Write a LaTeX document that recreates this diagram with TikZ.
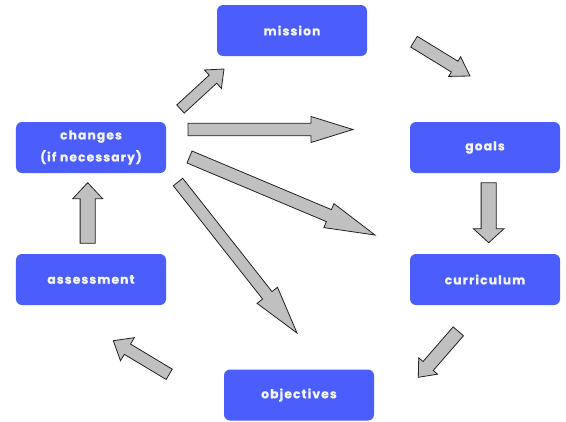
\documentclass[tikz,border=0pt]{standalone}
\usepackage{fontspec}
\usetikzlibrary{calc}
\newfontfamily\boxfont[LetterSpace=9,BoldFeatures={FakeBold=0.6}]{Poppins}
\definecolor{boxblue}{HTML}{4B5EFC}
\definecolor{arrgray}{HTML}{C0C0C0}
\definecolor{arrline}{HTML}{222222}
\definecolor{txtwhite}{HTML}{F4F4F4}
\tikzset{
  stagebox/.style={fill=boxblue, rounded corners=6bp, minimum width=150bp, minimum height=51bp,
    inner sep=0pt, align=center, text=txtwhite, font=\boxfont\bfseries\fontsize{12.3bp}{22bp}\selectfont},
  barrow/.style={fill=arrgray, draw=arrline, line width=0.8bp, line join=miter},
}
% tail, tip, shaft half-width, head half-width, head length
\newcommand\blockarrow[5]{%
  \coordinate (hb) at ($(#2)!#5!(#1)$);
  \draw[barrow] ($(#1)!#3!90:(#2)$) -- ($(hb)!#3!-90:(#1)$) -- ($(hb)!#4!-90:(#1)$) -- (#2)
    -- ($(hb)!#4!90:(#1)$) -- ($(hb)!#3!90:(#1)$) -- ($(#1)!#3!-90:(#2)$) -- cycle;
}
\begin{document}
\begin{tikzpicture}[x=1bp,y=-1bp]
\useasboundingbox (0,0) rectangle (566,421);
\node[stagebox] (mission) at (292,30.5) {mission};
\node[stagebox] (changes) at (91,147.5) {changes\\(if necessary)};
\node[stagebox] (goals) at (485,147.5) {goals};
\node[stagebox] (assessment) at (91,279.5) {assessment};
\node[stagebox] (curriculum) at (485,279.5) {curriculum};
\node[stagebox] (objectives) at (299,395) {objectives};
% arrow end points
\coordinate (a1t) at (180.5,109);   \coordinate (a1h) at (224,69);
\coordinate (a2t) at (188,129.5);   \coordinate (a2h) at (353,129.5);
\coordinate (a3t) at (189.5,157);   \coordinate (a3h) at (375,235);
\coordinate (a4t) at (178,182);     \coordinate (a4h) at (297,333);
\coordinate (a5t) at (414,41.7);    \coordinate (a5h) at (470,76);
\coordinate (a6t) at (488.7,182.7); \coordinate (a6h) at (488.7,242.7);
\coordinate (a7t) at (458.3,331.3); \coordinate (a7h) at (418.3,377.3);
\coordinate (a8t) at (169.2,374.3); \coordinate (a8h) at (113.3,340.7);
\coordinate (a9t) at (87.7,243.3);  \coordinate (a9h) at (87.7,182.7);
\blockarrow{a1t}{a1h}{5.5bp}{12.5bp}{15bp}
\blockarrow{a2t}{a2h}{6.3bp}{13bp}{42bp}
\blockarrow{a3t}{a3h}{6.5bp}{13bp}{50bp}
\blockarrow{a4t}{a4h}{6bp}{13bp}{48bp}
\blockarrow{a5t}{a5h}{6.3bp}{11.5bp}{18bp}
\blockarrow{a6t}{a6h}{7.6bp}{15.3bp}{14bp}
\blockarrow{a7t}{a7h}{6.8bp}{12.5bp}{15bp}
\blockarrow{a8t}{a8h}{6bp}{13.5bp}{16.5bp}
\blockarrow{a9t}{a9h}{7.6bp}{15bp}{16bp}
\end{tikzpicture}
\end{document}
